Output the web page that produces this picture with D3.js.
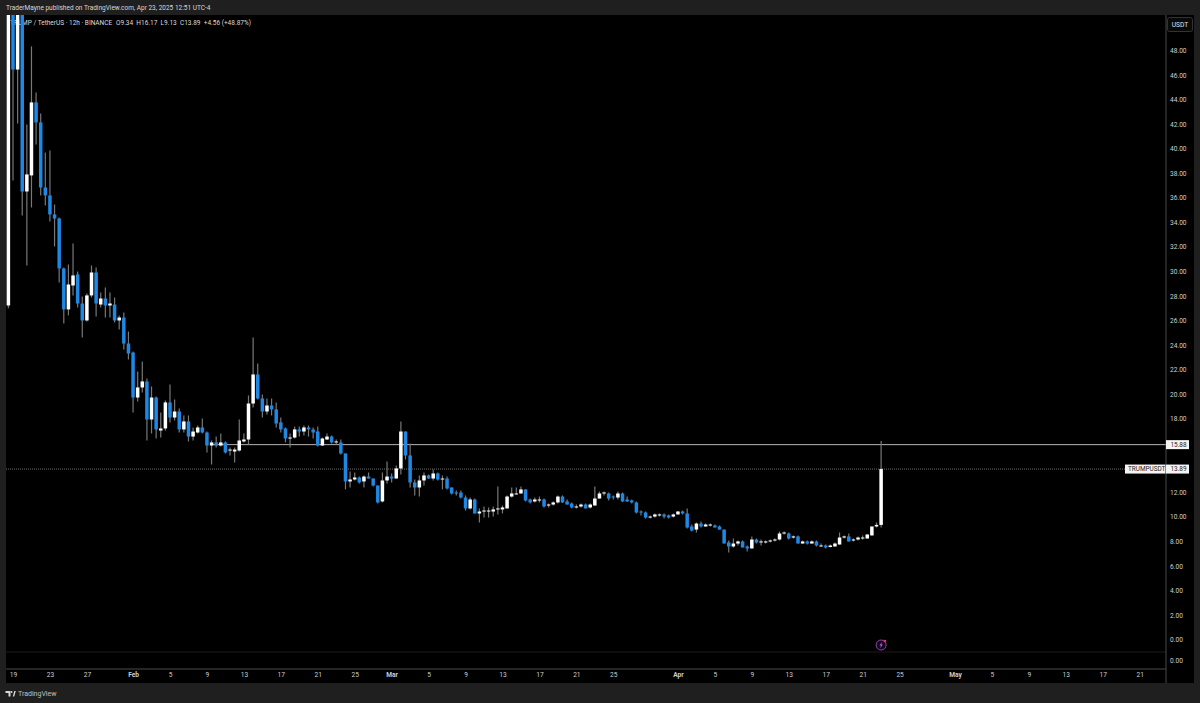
<!DOCTYPE html>
<html>
<head>
<meta charset="utf-8">
<script src="https://cdnjs.cloudflare.com/ajax/libs/d3/7.8.5/d3.min.js"></script>
<style>
  html, body { margin: 0; padding: 0; background: #1f1f1f; }
  svg { display: block; font-family: Roboto, sans-serif; }
  .axis path, .axis line { display: none; }
  .axis text { fill: #cfcfcf; font-size: 6.6px; font-family: Roboto, sans-serif; }
</style>
</head>
<body>
<div class="canvas"></div>
<script>
// 12h candles, first one opens 18 Jan 12:00
const opens = [
  27.22,73,46.45,72,36.51,37.82,43.77,42.14,36.84,36.19,
  34.64,34.31,30.24,26.90,28.85,29.75,27.38,26.00,28.04,29.91,
  27.30,27.79,27.22,27.30,26.00,26.24,24.12,23.39,19.72,20.54,
  21.03,17.93,19.72,17.03,17.20,19.32,18.09,18.58,17.12,17.77,
  16.54,16.87,17.28,16.87,15.81,16.06,15.81,16.06,15.40,15.32,
  15.40,16.14,16.30,19.23,21.60,19.64,18.58,19.07,18.75,17.69,
  17.20,16.38,16.46,17.12,16.95,17.28,17.12,16.95,15.81,16.30,
  16.54,16.06,16.06,15.16,12.88,13.04,13.20,12.88,13.28,13.12,
  12.55,11.25,12.96,13.28,13.12,13.94,16.95,15.00,12.80,12.39,
  12.96,13.37,13.12,13.53,13.04,13.12,12.39,11.98,11.98,11.57,
  10.68,11.41,10.27,10.43,10.43,10.43,10.60,10.60,10.68,11.65,
  11.82,11.90,12.23,11.41,11.25,11.33,11.41,10.92,11.00,11.17,
  11.65,11.25,11.08,10.76,10.84,11.00,10.76,10.92,11.49,11.90,
  11.90,11.65,11.57,11.90,11.41,11.33,11.17,10.43,10.35,9.94,
  10.02,10.11,10.19,10.11,10.02,10.19,10.43,10.27,9.21,8.96,
  9.45,9.21,9.29,9.29,9.21,8.96,7.91,7.58,7.82,7.99,
  7.58,7.42,8.15,7.91,7.91,7.99,8.07,8.15,8.64,8.64,
  8.31,8.40,7.82,7.99,7.82,7.99,7.58,7.66,7.54,7.58,
  7.74,8.31,8.40,8.07,8.15,8.23,8.23,8.48,9.21,9.34
];
const closes = [
  73,46.45,72,36.51,37.90,43.77,42.14,36.84,36.19,34.64,
  34.31,30.24,26.90,28.93,29.67,27.38,26.00,28.04,29.91,27.38,
  27.79,27.22,27.38,26.00,26.24,24.12,23.31,19.72,20.54,21.03,
  17.93,19.72,17.12,17.20,19.32,18.09,18.58,17.12,17.77,16.54,
  16.95,17.28,16.87,15.81,16.06,15.81,16.06,15.24,15.48,15.48,
  16.22,16.30,19.23,21.60,19.64,18.58,19.07,18.75,17.60,17.12,
  16.38,16.46,17.12,16.95,17.28,17.12,16.87,15.81,16.38,16.54,
  16.06,16.14,15.16,12.88,13.04,13.20,12.80,13.28,13.12,12.55,
  11.17,12.96,13.28,13.12,13.94,16.95,15.00,12.80,12.39,12.96,
  13.37,13.12,13.53,13.04,13.12,12.31,11.90,11.90,11.57,10.68,
  11.41,10.27,10.43,10.51,10.51,10.60,10.68,10.76,11.65,11.90,
  11.90,12.23,11.33,11.17,11.41,11.41,10.84,11.00,11.17,11.65,
  11.17,11.00,10.76,10.84,11.00,10.68,11.00,11.49,11.90,11.98,
  11.49,11.57,11.90,11.25,11.25,11.17,10.35,10.35,9.94,10.02,
  10.19,10.19,10.02,9.94,10.19,10.43,10.27,9.13,8.88,9.45,
  9.21,9.37,9.37,9.13,8.96,7.82,7.58,7.82,7.99,7.50,
  7.42,8.15,7.91,7.99,7.99,8.07,8.15,8.64,8.72,8.23,
  8.40,7.82,7.99,7.82,7.99,7.66,7.66,7.50,7.66,7.82,
  8.31,8.40,7.99,8.15,8.31,8.31,8.56,9.21,9.34,13.89
];
const highs = [
  78,80,74,73,41.97,48.33,44.58,42.87,39.69,39.85,
  35.45,34.39,30.32,30.56,32.27,29.99,27.95,28.20,30.48,30.32,
  28.28,28.69,28.28,27.87,26.41,26.65,25.10,23.47,21.84,22.66,
  21.27,20.62,19.80,18.50,19.48,20.78,19.56,18.83,18.26,18.26,
  17.28,17.44,18.01,16.95,16.22,16.54,16.79,16.14,15.65,15.65,
  17.93,16.79,19.89,24.61,22.49,19.97,19.64,19.64,19.32,18.09,
  17.28,16.79,17.36,17.36,17.44,17.44,17.28,17.36,16.46,16.79,
  16.63,16.30,16.30,15.16,13.69,13.61,13.28,13.37,13.61,13.12,
  12.55,13.61,14.51,13.53,14.18,17.77,16.95,15.97,13.04,13.37,
  13.61,13.45,13.86,13.61,13.37,13.28,12.39,12.14,12.14,11.74,
  11.57,11.49,10.68,10.84,10.76,10.84,12.47,10.92,11.74,12.39,
  12.39,12.47,12.23,11.49,11.57,11.65,11.49,11.08,11.25,11.74,
  11.74,11.41,11.17,11.00,11.08,11.08,11.08,12.47,12.06,12.06,
  11.98,11.74,12.06,11.98,11.65,11.41,11.25,10.51,10.43,10.11,
  10.27,10.27,10.27,10.19,10.27,10.47,10.51,10.68,9.37,9.54,
  9.62,9.45,9.45,9.37,9.29,8.96,8.07,8.23,8.07,8.07,
  7.66,8.40,8.23,8.15,8.07,8.15,8.23,8.80,8.80,8.72,
  8.48,8.48,8.07,8.07,8.07,8.07,7.82,7.74,7.74,7.91,
  8.72,8.48,8.64,8.23,8.40,8.48,8.56,9.21,9.54,16.17
];
const lows = [
  27.0,37.41,42.05,34.56,30.48,35.21,40.34,36.19,35.37,34.07,
  32.03,29.10,25.75,26.41,28.04,27.06,24.61,25.92,27.87,26.32,
  27.06,26.24,26.24,25.84,25.27,23.64,22.82,18.50,19.40,20.13,
  16.22,16.79,16.38,16.46,17.03,17.69,17.85,16.87,16.87,16.14,
  16.22,16.79,16.79,15.24,14.26,15.65,15.73,15.16,15.00,14.43,
  15.32,16.06,15.89,18.91,19.56,18.09,18.34,18.26,17.28,16.87,
  16.06,15.65,16.38,16.54,16.63,16.54,16.38,15.73,15.77,16.26,
  15.97,15.89,15.08,12.23,12.39,12.96,12.71,12.39,13.12,12.47,
  11.08,11.17,12.71,12.80,13.12,13.45,14.67,12.39,11.74,11.65,
  12.55,13.08,12.96,12.96,12.23,12.23,11.82,11.74,11.49,10.51,
  10.60,10.27,9.54,9.94,9.94,10.02,10.19,10.27,10.68,11.57,
  11.82,11.90,11.25,11.08,11.17,11.17,10.76,10.76,10.92,11.08,
  11.12,11.00,10.68,10.68,10.76,10.68,10.68,10.92,11.49,11.74,
  11.33,11.41,11.41,11.21,11.21,11.08,10.27,10.11,9.86,9.86,
  9.94,10.02,9.86,9.86,9.94,10.19,10.19,9.05,8.80,8.72,
  9.13,9.21,9.21,9.13,8.96,7.82,7.09,7.50,7.66,7.50,
  7.17,7.42,7.82,7.66,7.82,7.91,7.99,8.07,8.56,8.15,
  8.23,7.82,7.82,7.74,7.82,7.58,7.58,7.42,7.50,7.58,
  7.74,8.23,7.99,7.99,8.07,8.15,8.23,8.48,9.13,9.13
];

const priceTicks = [0,2,4,6,8,10,12,14,16,18,20,22,24,26,28,30,32,34,36,38,40,42,44,46,48];
const timeTicks = [
  "2025-01-19","2025-01-23","2025-01-27","2025-02-01","2025-02-05","2025-02-09","2025-02-13",
  "2025-02-17","2025-02-21","2025-02-25","2025-03-01","2025-03-05","2025-03-09","2025-03-13",
  "2025-03-17","2025-03-21","2025-03-25","2025-04-01","2025-04-05","2025-04-09","2025-04-13",
  "2025-04-17","2025-04-21","2025-04-25","2025-05-01","2025-05-05","2025-05-09","2025-05-13",
  "2025-05-17","2025-05-21"
].map(d => new Date(d + "T00:00:00Z"));

const levelPrice = 15.88;
const lastPrice = 13.89;
const levelStart = new Date("2025-02-09T12:00:00Z");

const publishedText = "TraderMayne published on TradingView.com, Apr 23, 2025 12:51 UTC-4";
const legendText = "TRUMP / TetherUS · 12h · BINANCE";
const legendValues = "O9.34  H16.17  L9.13  C13.89  +4.56 (+48.87%)";

const firstCandle = new Date("2025-01-18T12:00:00Z");
const candles = opens.map((o, i) => ({
  time: d3.utcHour.offset(firstCandle, i * 12),
  open: o, high: highs[i], low: lows[i], close: closes[i]
}));

const svg = d3.select('.canvas')
  .append('svg')
  .attr('width', 1200)
  .attr('height', 703);

// panel
svg.append('rect')
  .attr('x', 6).attr('y', 15)
  .attr('width', 1188).attr('height', 668)
  .attr('fill', '#000');

const x = d3.scaleUtc()
  .domain([new Date("2025-01-19T00:00:00Z"), new Date("2025-05-01T00:00:00Z")])
  .range([13, 955]);

const y = d3.scaleLinear()
  .domain([0, 48])
  .range([639.5, 50.5]);

svg.append('clipPath').attr('id', 'pane')
  .append('rect')
  .attr('x', 6).attr('y', 15)
  .attr('width', 1160).attr('height', 637);

// legend sits under the candles
const legend = svg.append('g').attr('fill', '#dcdcdc').attr('font-size', 6.5);
legend.append('text').attr('x', 10).attr('y', 24.5).text(legendText);
legend.append('text').attr('x', 116).attr('y', 24.5).attr('xml:space', 'preserve').text(legendValues);

const graph = svg.append('g').attr('clip-path', 'url(#pane)');

// level line and last price line
graph.append('line')
  .attr('x1', x(levelStart)).attr('x2', 1166)
  .attr('y1', y(levelPrice)).attr('y2', y(levelPrice))
  .attr('stroke', '#b4b4b4').attr('stroke-width', 1);

graph.append('line')
  .attr('x1', 6).attr('x2', 1166)
  .attr('y1', y(lastPrice)).attr('y2', y(lastPrice))
  .attr('stroke', '#707070').attr('stroke-width', 1)
  .attr('stroke-dasharray', '1,1');

const isUp = d => d.close >= d.open;
const bodyColor = d => isUp(d) ? '#ffffff' : '#1e88e5';

graph.selectAll('line.wick')
  .data(candles)
  .enter()
  .append('line')
  .attr('class', 'wick')
  .attr('x1', d => x(d.time)).attr('x2', d => x(d.time))
  .attr('y1', d => y(d.high)).attr('y2', d => y(d.low))
  .attr('stroke', '#787878')
  .attr('stroke-width', 1.2);

graph.selectAll('rect.body')
  .data(candles)
  .enter()
  .append('rect')
  .attr('class', 'body')
  .attr('x', d => x(d.time) - 1.75)
  .attr('width', 3.5)
  .attr('y', d => y(Math.max(d.open, d.close)))
  .attr('height', d => Math.max(1, Math.abs(y(d.open) - y(d.close))))
  .attr('fill', bodyColor);

// pane and axis dividers
const rules = [[6, 652, 1166, 652], [6, 669, 1166, 669], [1166, 15, 1166, 683]];
svg.selectAll('line.rule')
  .data(rules)
  .enter()
  .append('line')
  .attr('class', 'rule')
  .attr('x1', d => d[0]).attr('y1', d => d[1])
  .attr('x2', d => d[2]).attr('y2', d => d[3])
  .attr('stroke', (d, i) => i === 0 ? '#1c1c1c' : '#4a4a4a');

// axes
svg.append('g')
  .attr('class', 'axis')
  .attr('transform', 'translate(1166,0)')
  .call(d3.axisRight(y).tickValues(priceTicks).tickSize(0).tickPadding(4).tickFormat(d3.format('.2f')));

svg.append('text')
  .attr('x', 1170).attr('y', 662.5)
  .attr('fill', '#cfcfcf').attr('font-size', 6.6)
  .text('0.00');

svg.append('g')
  .attr('class', 'axis')
  .attr('transform', 'translate(0,669)')
  .call(d3.axisBottom(x).tickValues(timeTicks).tickSize(0).tickPadding(3)
    .tickFormat(d => d.getUTCDate() === 1 ? d3.utcFormat('%b')(d) : d.getUTCDate()))
  .selectAll('text')
  .attr('font-weight', d => d.getUTCDate() === 1 ? 700 : 400);

// price tags
const tags = [
  { x: 1166, w: 23, price: levelPrice, label: levelPrice.toFixed(2), anchor: 1170.5 },
  { x: 1166, w: 23, price: lastPrice, label: lastPrice.toFixed(2), anchor: 1170.5 },
  { x: 1125, w: 40.5, price: lastPrice, label: 'TRUMPUSDT', anchor: 1128 }
];
const tag = svg.selectAll('g.tag').data(tags).enter().append('g').attr('class', 'tag');
tag.append('rect')
  .attr('x', d => d.x).attr('width', d => d.w)
  .attr('y', d => y(d.price) - 4.5).attr('height', 9)
  .attr('fill', '#f4f4f4');
tag.append('text')
  .attr('x', d => d.anchor).attr('y', d => y(d.price) + 2.4)
  .attr('fill', '#222').attr('font-size', 6.4)
  .text(d => d.label);

// currency button
svg.append('rect')
  .attr('x', 1167.5).attr('y', 17.5).attr('width', 25).attr('height', 14).attr('rx', 2)
  .attr('fill', '#0a0a0a').attr('stroke', '#333');
svg.append('text')
  .attr('x', 1180).attr('y', 26.8)
  .attr('text-anchor', 'middle').attr('fill', '#e0e0e0').attr('font-size', 6.6)
  .text('USDT');

// header and footer
svg.append('text')
  .attr('x', 6).attr('y', 10)
  .attr('fill', '#d8d8d8').attr('font-size', 6.5)
  .text(publishedText);

const logo = svg.append('g').attr('fill', '#d8d8d8');
logo.append('path').attr('d', 'M5.5 691h5v5.5h-2v-3.5h-3z');
logo.append('circle').attr('cx', 11.6).attr('cy', 692).attr('r', 0.9);
logo.append('path').attr('d', 'M12.8 696.5l1.5-5.5h1.5l-1.6 5.5z');
svg.append('text')
  .attr('x', 18).attr('y', 696.3)
  .attr('fill', '#c0c0c0').attr('font-size', 7)
  .text('TradingView');

// event marker on the last candle
const marker = svg.append('g').attr('transform', `translate(${x(new Date("2025-04-23T00:00:00Z"))},645)`);
marker.append('circle').attr('r', 5).attr('fill', '#12061a').attr('stroke', '#8e44ad').attr('stroke-width', 1);
marker.append('path').attr('d', 'M1 -3.2L-1.8 0.6H-0.2L-1 3.2L1.8 -0.6H0.2z').attr('fill', '#b05cd6');
marker.append('circle').attr('cx', 3.8).attr('cy', -4).attr('r', 1.3).attr('fill', '#f23645');
</script>
</body>
</html>
